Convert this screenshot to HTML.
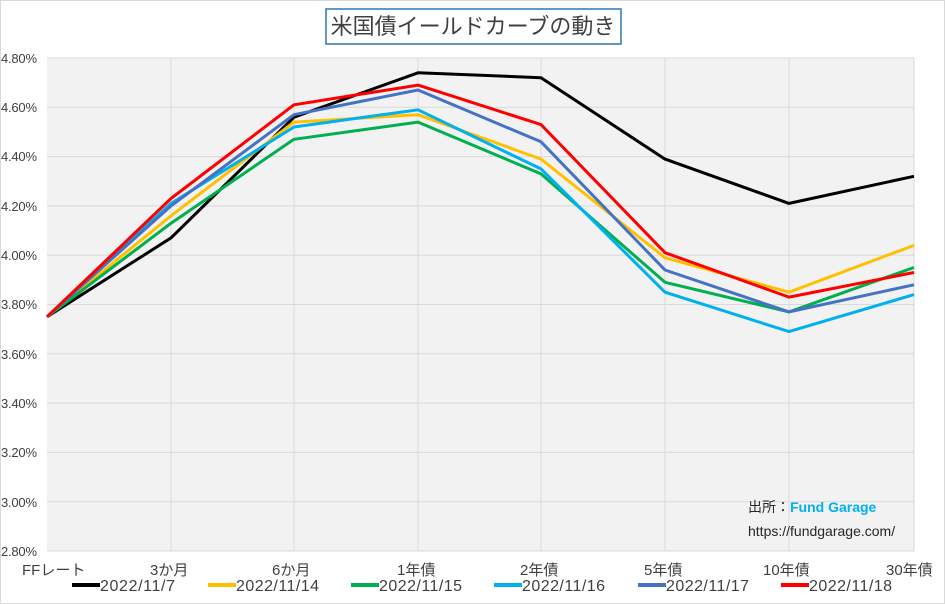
<!DOCTYPE html>
<html><head><meta charset="utf-8"><style>
body{margin:0;background:#fff}
svg{display:block;font-family:"Liberation Sans","Noto Sans CJK JP",sans-serif}
</style></head><body>
<svg width="945" height="604" viewBox="0 0 945 604">
<rect x="0.5" y="0.5" width="944" height="603" fill="#fff" stroke="#d9d9d9"/>
<rect x="326" y="9" width="295" height="35" fill="#fff" stroke="#2e75b6" stroke-width="1.5"/>
<text x="473" y="34" font-size="22" fill="#404040" text-anchor="middle">米国債イールドカーブの動き</text>
<rect x="47" y="58" width="867" height="493" fill="#f2f2f2"/>
<g stroke="#d9d9d9" stroke-width="1">
<line x1="47" y1="58" x2="914" y2="58"/><line x1="47" y1="107.3" x2="914" y2="107.3"/><line x1="47" y1="156.6" x2="914" y2="156.6"/><line x1="47" y1="205.9" x2="914" y2="205.9"/><line x1="47" y1="255.2" x2="914" y2="255.2"/><line x1="47" y1="304.5" x2="914" y2="304.5"/><line x1="47" y1="353.8" x2="914" y2="353.8"/><line x1="47" y1="403.1" x2="914" y2="403.1"/><line x1="47" y1="452.4" x2="914" y2="452.4"/><line x1="47" y1="501.7" x2="914" y2="501.7"/><line x1="47" y1="551" x2="914" y2="551"/>
<line x1="171" y1="58" x2="171" y2="551"/><line x1="294" y1="58" x2="294" y2="551"/><line x1="418" y1="58" x2="418" y2="551"/><line x1="541" y1="58" x2="541" y2="551"/><line x1="665" y1="58" x2="665" y2="551"/><line x1="789" y1="58" x2="789" y2="551"/><line x1="914" y1="58" x2="914" y2="551"/>
</g>
<g font-size="13" fill="#404040">
<text x="1" y="63" textLength="36">4.80%</text><text x="1" y="112" textLength="36">4.60%</text><text x="1" y="161" textLength="36">4.40%</text><text x="1" y="211" textLength="36">4.20%</text><text x="1" y="260" textLength="36">4.00%</text><text x="1" y="309" textLength="36">3.80%</text><text x="1" y="359" textLength="36">3.60%</text><text x="1" y="408" textLength="36">3.40%</text><text x="1" y="457" textLength="36">3.20%</text><text x="1" y="507" textLength="36">3.00%</text><text x="1" y="556" textLength="36">2.80%</text>
</g>
<g font-size="15" fill="#404040">
<text x="22" y="575">FFレート</text><text x="150" y="575">3か月</text><text x="272" y="575">6か月</text><text x="397" y="575">1年債</text><text x="520" y="575">2年債</text><text x="644" y="575">5年債</text><text x="763" y="575">10年債</text><text x="886" y="575">30年債</text>
</g>
<g fill="none" stroke-width="3" stroke-linejoin="round">
<polyline stroke="#000" points="47,316.8 171,237.9 294,117.2 418,72.8 541,77.7 665,159.1 789,203.4 914,176.3"/>
<polyline stroke="#ffc000" points="47,316.8 171,215.8 294,122.1 418,114.7 541,159.1 665,257.7 789,292.2 914,245.3"/>
<polyline stroke="#00b050" points="47,316.8 171,223.2 294,139.3 418,122.1 541,173.9 665,282.3 789,311.9 914,267.5"/>
<polyline stroke="#00b0f0" points="47,316.8 171,203.4 294,127 418,109.8 541,168.9 665,292.2 789,331.6 914,294.6"/>
<polyline stroke="#4472c4" points="47,316.8 171,205.9 294,114.7 418,90 541,141.8 665,270 789,311.9 914,284.8"/>
<polyline stroke="#ff0000" points="47,316.8 171,198.5 294,104.8 418,85.1 541,124.6 665,252.7 789,297.1 914,272.5"/>
</g>
<text x="748" y="512" font-size="14" fill="#262626">出所：<tspan fill="#00b0f0" font-weight="bold">Fund Garage</tspan></text>
<text x="748" y="536" font-size="14" fill="#262626">https://fundgarage.com/</text>
<g stroke-width="4">
<line x1="72" y1="585" x2="100" y2="585" stroke="#000"/><line x1="208" y1="585" x2="236" y2="585" stroke="#ffc000"/><line x1="351" y1="585" x2="379" y2="585" stroke="#00b050"/><line x1="494" y1="585" x2="522" y2="585" stroke="#00b0f0"/><line x1="638" y1="585" x2="666" y2="585" stroke="#4472c4"/><line x1="781" y1="585" x2="809" y2="585" stroke="#ff0000"/>
</g>
<g font-size="16" fill="#404040">
<text x="100" y="591" textLength="75">2022/11/7</text><text x="236" y="591" textLength="83">2022/11/14</text><text x="379" y="591" textLength="83">2022/11/15</text><text x="522" y="591" textLength="83">2022/11/16</text><text x="666" y="591" textLength="83">2022/11/17</text><text x="809" y="591" textLength="83">2022/11/18</text>
</g>
</svg>
</body></html>
